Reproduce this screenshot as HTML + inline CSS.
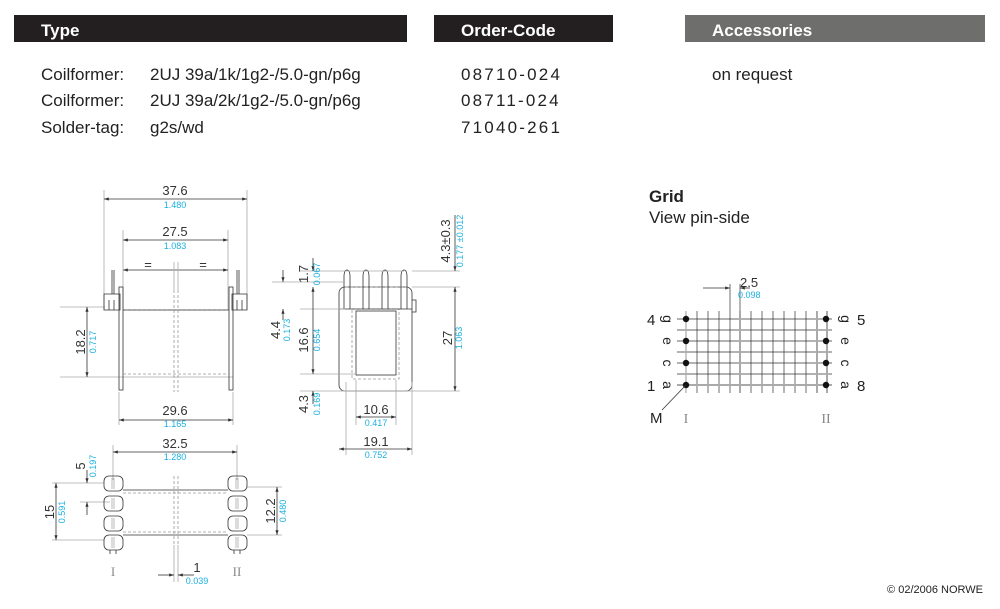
<!DOCTYPE html>
<html><head><meta charset="utf-8"><style>
body{margin:0;background:#fff;width:1000px;height:609px;overflow:hidden}
svg{display:block}
.t{font-family:"Liberation Sans",sans-serif;fill:#222}
.c{font-family:"Liberation Sans",sans-serif;fill:#1ab0e0;font-size:9px}
.d{font-family:"Liberation Sans",sans-serif;fill:#333;font-size:13px}
.l{stroke:#333;stroke-width:0.8;fill:none}
.g{stroke:#aaa;stroke-width:0.8;fill:none}
.ds{stroke:#999;stroke-width:0.8;fill:none;stroke-dasharray:3,2}
</style></head><body>
<svg width="1000" height="609" viewBox="0 0 1000 609">
<defs><marker id="a" markerWidth="6" markerHeight="4" refX="6" refY="2" orient="auto-start-reverse"><path d="M0,0L6,2L0,4z" fill="#333"/></marker></defs>
<rect x="14" y="15" width="393" height="27" fill="#231f20"/>
<rect x="434" y="15" width="179" height="27" fill="#231f20"/>
<rect x="685" y="15" width="300" height="27" fill="#6e6e6c"/>
<g font-family="Liberation Sans,sans-serif" font-weight="bold" font-size="17" fill="#fff">
<text x="41" y="36">Type</text><text x="461" y="36">Order-Code</text><text x="712" y="36">Accessories</text></g>
<g class="t" font-size="17">
<text x="41" y="80">Coilformer:</text><text x="150" y="80">2UJ 39a/1k/1g2-/5.0-gn/p6g</text>
<text x="41" y="106">Coilformer:</text><text x="150" y="106">2UJ 39a/2k/1g2-/5.0-gn/p6g</text>
<text x="41" y="133">Solder-tag:</text><text x="150" y="133">g2s/wd</text>
<text x="461" y="80" letter-spacing="2.2">08710-024</text>
<text x="461" y="106" letter-spacing="2.2">08711-024</text>
<text x="461" y="133" letter-spacing="2.2">71040-261</text>
<text x="712" y="80">on request</text>
<text x="649" y="202" font-weight="bold">Grid</text>
<text x="649" y="223">View pin-side</text>
</g>
<text class="t" x="983" y="593" font-size="11" text-anchor="end">© 02/2006 NORWE</text>

<!-- left top view -->
<g>
<path class="g" d="M104,190V310M247,190V310M123,230V310M228,230V310M119,392V425M233,392V425M60,307H105M60,377H233"/>
<line class="l" x1="104" y1="199" x2="247" y2="199" marker-start="url(#a)" marker-end="url(#a)"/>
<line class="l" x1="123" y1="240" x2="228" y2="240" marker-start="url(#a)" marker-end="url(#a)"/>
<line class="l" x1="123" y1="270" x2="228" y2="270" marker-start="url(#a)" marker-end="url(#a)"/>
<line class="l" x1="87" y1="307" x2="87" y2="377" marker-start="url(#a)" marker-end="url(#a)"/>
<line class="l" x1="119" y1="420" x2="233" y2="420" marker-start="url(#a)" marker-end="url(#a)"/>
<text class="d" x="175" y="195" text-anchor="middle">37.6</text><text class="c" x="175" y="208" text-anchor="middle">1.480</text>
<text class="d" x="175" y="236" text-anchor="middle">27.5</text><text class="c" x="175" y="249" text-anchor="middle">1.083</text>
<text class="d" x="148" y="269" text-anchor="middle" font-size="10">=</text><text class="d" x="203" y="269" text-anchor="middle" font-size="10">=</text>
<text class="d" x="175" y="415" text-anchor="middle">29.6</text><text class="c" x="175" y="427" text-anchor="middle">1.165</text>
<text class="d" transform="translate(85,342) rotate(-90)" text-anchor="middle">18.2</text>
<text class="c" transform="translate(96,342) rotate(-90)" text-anchor="middle">0.717</text>
<path class="l" d="M104,294H120V310H104ZM232,294H247V310H232Z"/>
<path class="l" d="M112,270V294M114,270V294M237,270V294M239,270V294M109,300V310M114,300V310M237,300V310M242,300V310"/>
<rect class="l" x="119" y="287" width="4" height="103"/><rect class="l" x="229" y="287" width="4" height="103"/>
<path class="ds" d="M123,310H229M123,374H229"/>
<path class="l" d="M123,310H229"/>
<path class="ds" d="M174,290V392M178,290V392"/>
<path class="g" d="M174,262V290M178,262V290"/>
</g>

<!-- middle side view -->
<g>
<rect class="l" x="339" y="287" width="73" height="104" rx="6"/>
<rect class="l" x="356" y="311" width="40" height="64"/>
<rect class="ds" x="352" y="309" width="47" height="70"/>
<path class="ds" d="M345,287H408"/>
<path class="l" d="M344,309V277Q344,270 347,270Q350,270 350,277V309M363,309V277Q363,270 366,270Q369,270 369,277V309M382,309V277Q382,270 385,270Q388,270 388,277V309M401,309V277Q401,270 404,270Q407,270 407,277V309M339,309H412M412,300H416V312H412"/>
<path class="g" d="M346,382V455M412,382V455M356,380V425M396,380V425M272,282H345M300,271H404M300,309H345M300,374H356M300,391H460M412,287H460M412,271H460"/>
<line class="l" x1="283" y1="270" x2="283" y2="282" marker-end="url(#a)"/>
<line class="l" x1="283" y1="309" x2="283" y2="320" marker-start="url(#a)"/>
<line class="l" x1="313" y1="258" x2="313" y2="271" marker-end="url(#a)"/>
<line class="l" x1="313" y1="287" x2="313" y2="374" marker-start="url(#a)" marker-end="url(#a)"/>
<line class="l" x1="313" y1="391" x2="313" y2="404" marker-start="url(#a)"/>
<line class="l" x1="455" y1="215" x2="455" y2="271" marker-end="url(#a)"/>
<line class="l" x1="455" y1="287" x2="455" y2="391" marker-start="url(#a)" marker-end="url(#a)"/>
<line class="l" x1="356" y1="417" x2="396" y2="417" marker-start="url(#a)" marker-end="url(#a)"/>
<line class="l" x1="339" y1="449" x2="412" y2="449" marker-start="url(#a)" marker-end="url(#a)"/>
<text class="d" x="376" y="414" text-anchor="middle">10.6</text><text class="c" x="376" y="426" text-anchor="middle">0.417</text>
<text class="d" x="376" y="446" text-anchor="middle">19.1</text><text class="c" x="376" y="458" text-anchor="middle">0.752</text>
<text class="d" transform="translate(308,274) rotate(-90)" text-anchor="middle">1.7</text><text class="c" transform="translate(320,274) rotate(-90)" text-anchor="middle">0.067</text>
<text class="d" transform="translate(280,330) rotate(-90)" text-anchor="middle">4.4</text><text class="c" transform="translate(290,330) rotate(-90)" text-anchor="middle">0.173</text>
<text class="d" transform="translate(308,340) rotate(-90)" text-anchor="middle">16.6</text><text class="c" transform="translate(320,340) rotate(-90)" text-anchor="middle">0.654</text>
<text class="d" transform="translate(308,404) rotate(-90)" text-anchor="middle">4.3</text><text class="c" transform="translate(320,404) rotate(-90)" text-anchor="middle">0.169</text>
<text class="d" transform="translate(452,338) rotate(-90)" text-anchor="middle">27</text><text class="c" transform="translate(462,338) rotate(-90)" text-anchor="middle">1.063</text>
<text class="d" transform="translate(450,241) rotate(-90)" text-anchor="middle" font-size="11">4.3±0.3</text><text class="c" transform="translate(463,241) rotate(-90)" text-anchor="middle">0.177 ±0.012</text>
</g>

<!-- bottom view -->
<g>
<path class="g" d="M113,445V480M237,445V480M52,483H104M80,502H110M247,487H282M247,535H282M52,540H104M174,545V582M178,545V582"/>
<line class="l" x1="113" y1="452" x2="237" y2="452" marker-start="url(#a)" marker-end="url(#a)"/>
<line class="l" x1="56" y1="483" x2="56" y2="540" marker-start="url(#a)" marker-end="url(#a)"/>
<line class="l" x1="87" y1="470" x2="87" y2="483" marker-end="url(#a)"/>
<line class="l" x1="87" y1="502" x2="87" y2="515" marker-start="url(#a)"/>
<line class="l" x1="277" y1="487" x2="277" y2="535" marker-start="url(#a)" marker-end="url(#a)"/>
<line class="l" x1="158" y1="575" x2="174" y2="575" marker-end="url(#a)"/>
<line class="l" x1="194" y1="575" x2="178" y2="575" marker-end="url(#a)"/>
<text class="d" x="175" y="448" text-anchor="middle">32.5</text><text class="c" x="175" y="460" text-anchor="middle">1.280</text>
<text class="d" x="197" y="572" text-anchor="middle">1</text><text class="c" x="197" y="584" text-anchor="middle">0.039</text>
<text class="d" transform="translate(54,512) rotate(-90)" text-anchor="middle">15</text><text class="c" transform="translate(65,512) rotate(-90)" text-anchor="middle">0.591</text>
<text class="d" transform="translate(85,466) rotate(-90)" text-anchor="middle">5</text><text class="c" transform="translate(96,466) rotate(-90)" text-anchor="middle">0.197</text>
<text class="d" transform="translate(275,511) rotate(-90)" text-anchor="middle">12.2</text><text class="c" transform="translate(286,511) rotate(-90)" text-anchor="middle">0.480</text>
<g class="l">
<rect x="104" y="476" width="19" height="15" rx="5"/><rect x="104" y="496" width="19" height="15" rx="5"/><rect x="104" y="516" width="19" height="15" rx="5"/><rect x="104" y="535" width="19" height="15" rx="5"/>
<rect x="228" y="476" width="19" height="15" rx="5"/><rect x="228" y="496" width="19" height="15" rx="5"/><rect x="228" y="516" width="19" height="15" rx="5"/><rect x="228" y="535" width="19" height="15" rx="5"/>
<path d="M123,490H228M123,535H228M110,550V554M116,550V554M234,550V554M240,550V554"/>
</g>
<path class="g" d="M112,478V489M114,478V489M112,498V509M114,498V509M112,518V529M114,518V529M112,537V548M114,537V548M236,478V489M238,478V489M236,498V509M238,498V509M236,518V529M238,518V529M236,537V548M238,537V548"/>
<path class="ds" d="M123,493H228M123,532H228M174,476V545M178,476V545"/>
<text x="113" y="576" font-family="Liberation Serif,serif" font-size="13" fill="#888" text-anchor="middle">I</text>
<text x="237" y="576" font-family="Liberation Serif,serif" font-size="13" fill="#888" text-anchor="middle">II</text>
</g>

<!-- grid -->
<g>
<path stroke="#333" stroke-width="0.7" d="M686,311V393M697,311V393M708,311V393M719,311V393M730,284V393M740,284V393M751,311V393M762,311V393M773,311V393M784,311V393M795,311V393M806,311V393M817,311V393M827,311V393
M677,319H832M677,330H832M677,341H832M677,352H832M677,363H832M677,374H832"/>
<path stroke="#aaa" stroke-width="2" d="M677,385H832M740,311V393M817,311V393M827,311V393"/>
<path stroke="#aaa" stroke-width="1.2" d="M686,311V393"/>
<line class="l" x1="703" y1="288" x2="730" y2="288" marker-end="url(#a)"/>
<line class="l" x1="750" y1="288" x2="740" y2="288" marker-end="url(#a)"/>
<text class="d" x="740" y="287">2.5</text><text class="c" x="738" y="298">0.098</text>
<g fill="#111"><circle cx="686" cy="319" r="3.2"/><circle cx="686" cy="341" r="3.2"/><circle cx="686" cy="363" r="3.2"/><circle cx="686" cy="385" r="3.2"/>
<circle cx="826" cy="319" r="3.2"/><circle cx="826" cy="341" r="3.2"/><circle cx="826" cy="363" r="3.2"/><circle cx="826" cy="385" r="3.2"/></g>
<path class="l" d="M686,385L662,410"/>
<g class="t" font-size="15">
<text x="647" y="325">4</text><text x="647" y="391">1</text><text x="857" y="325">5</text><text x="857" y="391">8</text>
<text x="650" y="423">M</text></g>
<g class="t" font-size="14">
<text transform="translate(667,319) rotate(90)" text-anchor="middle" dy="4">g</text>
<text transform="translate(667,341) rotate(90)" text-anchor="middle" dy="4">e</text>
<text transform="translate(667,363) rotate(90)" text-anchor="middle" dy="4">c</text>
<text transform="translate(667,385) rotate(90)" text-anchor="middle" dy="4">a</text>
<text transform="translate(845,319) rotate(90)" text-anchor="middle" dy="4">g</text>
<text transform="translate(845,341) rotate(90)" text-anchor="middle" dy="4">e</text>
<text transform="translate(845,363) rotate(90)" text-anchor="middle" dy="4">c</text>
<text transform="translate(845,385) rotate(90)" text-anchor="middle" dy="4">a</text>
</g>
<text x="686" y="423" font-family="Liberation Serif,serif" font-size="14" fill="#888" text-anchor="middle">I</text>
<text x="826" y="423" font-family="Liberation Serif,serif" font-size="14" fill="#888" text-anchor="middle">II</text>
</g>
</svg>
</body></html>
